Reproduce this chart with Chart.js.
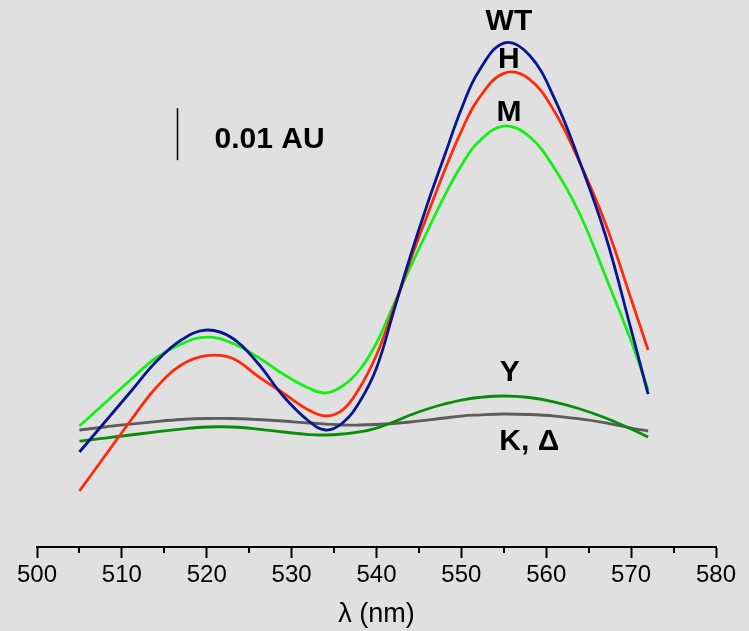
<!DOCTYPE html>
<html>
<head>
<meta charset="utf-8">
<script src="https://cdn.jsdelivr.net/npm/chart.js@4/dist/chart.umd.min.js"></script>
<style>
  html, body { margin: 0; padding: 0; background: #e0e0e0; }
  #wrap { width: 749px; height: 631px; }
</style>
</head>
<body>
<div id="wrap"><canvas id="spectra" width="749" height="631"></canvas></div>
<script>
// wavelength grid (nm)
const wavelengths = [505, 508, 511, 514, 517, 520, 523, 526, 529, 532, 534, 536, 538, 540,
                     542, 544, 546, 548, 550, 552, 555, 558, 561, 564, 567, 570, 572];

// absorbance, in mAU (arbitrary baseline)
const wtValues = [18.27, 24.04, 29.81, 35.58, 39.81, 41.73, 40.20, 35.38, 29.04, 24.23, 22.50, 23.85, 27.88, 34.42,
                  45.19, 55.96, 65.96, 75.19, 84.23, 91.35, 96.92, 94.62, 86.15, 73.85, 59.81, 41.80, 29.42];
const hValues  = [10.77, 17.50, 24.23, 30.58, 35.00, 36.80, 36.30, 32.88, 29.62, 26.35, 25.19, 26.35, 30.58, 36.92,
                  45.77, 55.19, 63.85, 72.31, 80.00, 86.15, 91.08, 90.00, 83.65, 73.75, 62.12, 47.69, 37.88];
const mValues  = [23.27, 27.69, 32.12, 36.35, 39.04, 40.38, 39.20, 36.54, 33.27, 30.58, 29.62, 30.96, 34.04, 39.23,
                  46.54, 53.85, 60.77, 67.50, 73.37, 77.88, 80.96, 78.94, 72.75, 63.85, 52.00, 39.60, 30.19];
const yValues  = [20.38, 20.96, 21.54, 22.12, 22.69, 23.08, 23.08, 22.69, 22.12, 21.63, 21.54, 21.73, 22.12, 22.88,
                  24.04, 25.38, 26.54, 27.50, 28.27, 28.75, 29.04, 28.75, 27.88, 26.54, 24.81, 22.69, 21.15];
const kValues  = [22.50, 23.08, 23.65, 24.13, 24.52, 24.71, 24.71, 24.52, 24.23, 23.85, 23.65, 23.46, 23.46, 23.56,
                  23.75, 24.04, 24.42, 24.81, 25.19, 25.38, 25.58, 25.48, 25.19, 24.62, 23.85, 22.88, 22.31];

const xTicks = [500, 510, 520, 530, 540, 550, 560, 570, 580];
const minorTicks = [505, 515, 525, 535, 545, 555, 565, 575];

// curve labels: [text, wavelength, mAU]
const curveLabels = [
    ['WT', 555.6, 101.0],
    ['H', 555.6, 93.7],
    ['M', 555.6, 83.5],
    ['Y', 555.7, 33.5],
    ['K, \u0394', 558.0, 20.3]
];
const scaleBar = { x: 516.5, from: 74.4, size: 10, label: '0.01 AU', labelX: 527.4, labelY: 78.3 };

function pts(vals) {
    return wavelengths.map((w, i) => ({ x: w, y: vals[i] }));
}

function series(label, vals, color) {
    return {
        label: label,
        data: pts(vals),
        borderColor: color,
        borderWidth: 2.8,
        pointRadius: 0,
        fill: false,
        tension: 0.4
    };
}

const bgPlugin = {
    id: 'bg',
    beforeDraw(chart) {
        const c = chart.ctx;
        c.save();
        c.fillStyle = '#e0e0e0';
        c.fillRect(0, 0, chart.width, chart.height);
        c.restore();
    }
};

const annotPlugin = {
    id: 'annot',
    afterDraw(chart) {
        const c = chart.ctx;
        const xs = chart.scales.x, ys = chart.scales.y;
        c.save();
        // minor ticks
        c.strokeStyle = '#000';
        c.lineWidth = 2;
        const axisY = xs.top;
        minorTicks.forEach(v => {
            const px = Math.round(xs.getPixelForValue(v));
            c.beginPath();
            c.moveTo(px, axisY);
            c.lineTo(px, axisY + 6);
            c.stroke();
        });
        // scale bar
        const bx = Math.round(xs.getPixelForValue(scaleBar.x)) + 0.5;
        c.lineWidth = 1.5;
        c.beginPath();
        c.moveTo(bx, ys.getPixelForValue(scaleBar.from));
        c.lineTo(bx, ys.getPixelForValue(scaleBar.from + scaleBar.size));
        c.stroke();
        c.fillStyle = '#000';
        c.font = 'bold 30px "Liberation Sans", Arial, sans-serif';
        c.textAlign = 'center';
        c.textBaseline = 'middle';
        c.fillText(scaleBar.label, xs.getPixelForValue(scaleBar.labelX), ys.getPixelForValue(scaleBar.labelY));
        curveLabels.forEach(([t, x, y]) => {
            c.fillText(t, xs.getPixelForValue(x), ys.getPixelForValue(y));
        });
        c.restore();
    }
};

new Chart(document.getElementById('spectra'), {
    type: 'line',
    data: {
        datasets: [
            series('WT', wtValues, '#06168f'),
            series('H', hValues, '#ff2a0a'),
            series('M', mValues, '#14f014'),
            series('Y', yValues, '#0a8c0a'),
            series('K', kValues, '#5c5c5c')
        ]
    },
    options: {
        responsive: false,
        animation: false,
        layout: { padding: { left: 37, right: 33, top: 0, bottom: 0 } },
        plugins: { legend: { display: false }, tooltip: { enabled: false } },
        scales: {
            x: {
                type: 'linear',
                min: 500,
                max: 580,
                afterBuildTicks(s) { s.ticks = xTicks.map(v => ({ value: v })); },
                afterFit(s) { s.height = 84; },
                border: { display: true, color: '#000', width: 2 },
                grid: { drawOnChartArea: false, color: '#000', tickLength: 11, tickWidth: 2 },
                ticks: {
                    color: '#000',
                    padding: 3,
                    maxRotation: 0,
                    font: { family: '"Liberation Sans", Arial, sans-serif', size: 24 }
                },
                title: {
                    display: true,
                    text: '\u03bb (nm)',
                    color: '#000',
                    padding: { top: 0, bottom: 0 },
                    font: { family: '"Liberation Sans", Arial, sans-serif', size: 27 }
                }
            },
            y: {
                display: false,
                min: 0,
                max: 105.2
            }
        }
    },
    plugins: [bgPlugin, annotPlugin]
});
</script>
</body>
</html>
